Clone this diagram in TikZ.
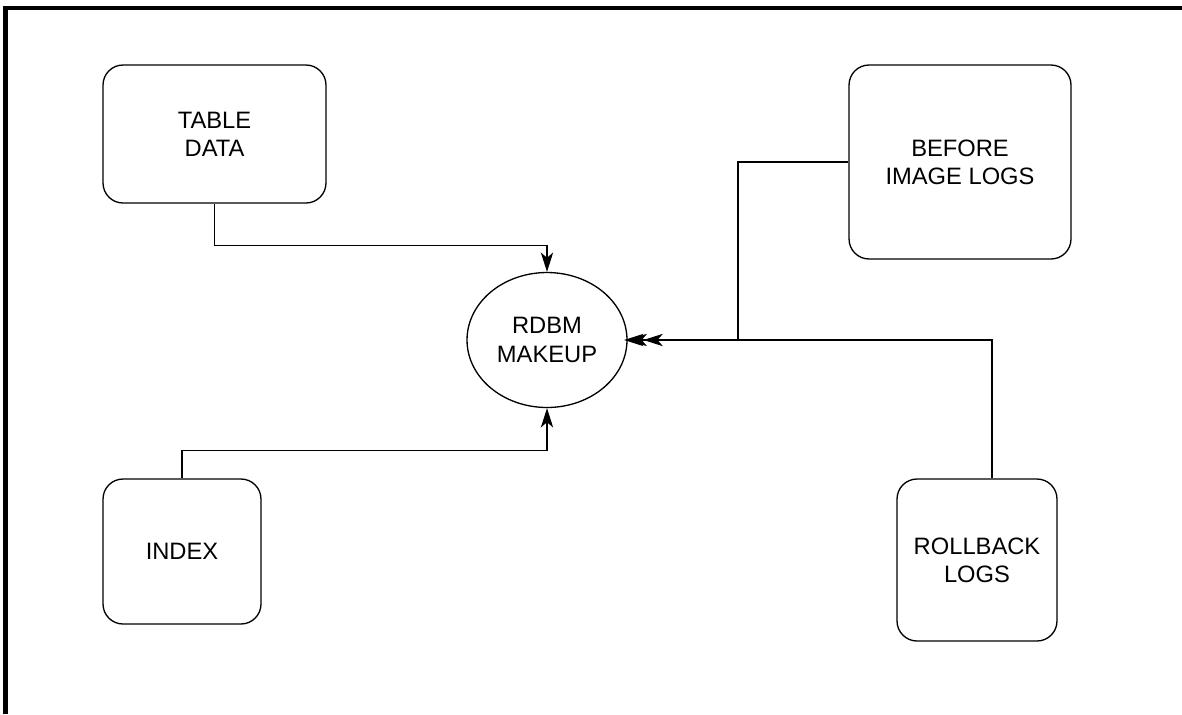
\documentclass[tikz,border=0pt]{standalone}
\usepackage{fontspec}
\setmainfont{Liberation Sans}
\usetikzlibrary{positioning, shapes.geometric, arrows.meta}

\begin{document}
\begin{tikzpicture}[x=0.02cm, y=-0.02cm, line width=0.75pt,
  store node/.style={rectangle, draw, rounded corners=0.4cm, align=center, font=\fontsize{13.5}{16}\selectfont},
  make node/.style={ellipse, draw, align=center, minimum width=3.2cm, minimum height=2.7cm, inner sep=0pt, font=\fontsize{13.5}{16}\selectfont},
  flow/.style={-{Stealth[length=11pt, width=7pt, inset=3pt]}}]

  % Frame
  \useasboundingbox (0,0) rectangle (1182,714);
  \draw[line width=2.3pt] (5.5,714) -- (5.5,8) -- (1182,8);

  % Define nodes
  \node[make node] (rdbm) at (547,340) {RDBM\\MAKEUP};
  \node[store node, minimum width=4.46cm, minimum height=2.76cm] (tdata) at (214.5,134) {TABLE\\DATA};
  \node[store node, minimum width=4.44cm, minimum height=3.88cm] (bimg) at (960,162) {BEFORE\\IMAGE LOGS};
  \node[store node, minimum width=3.16cm, minimum height=2.9cm] (index) at (182,551.5) {INDEX};
  \node[store node, minimum width=3.2cm, minimum height=3.24cm] (rlogs) at (977,560) {ROLLBACK\\LOGS};
  \coordinate (bjoin) at (738,340);

  % Define edges
  \draw[flow] (tdata.south) -- ++(0,42) -| (rdbm.north);
  \draw[flow] (index.north) -- ++(0,-28) -| (rdbm.south);
  \draw[flow] (bimg.west) -| (bjoin) -- (rdbm.east);
  \draw[-{Stealth[length=11pt, width=7pt, inset=3pt] Stealth[length=11pt, width=7pt, inset=3pt, sep=-2pt]}] ([xshift=0.3cm]rlogs.north) |- (rdbm.east);
\end{tikzpicture}
\end{document}
